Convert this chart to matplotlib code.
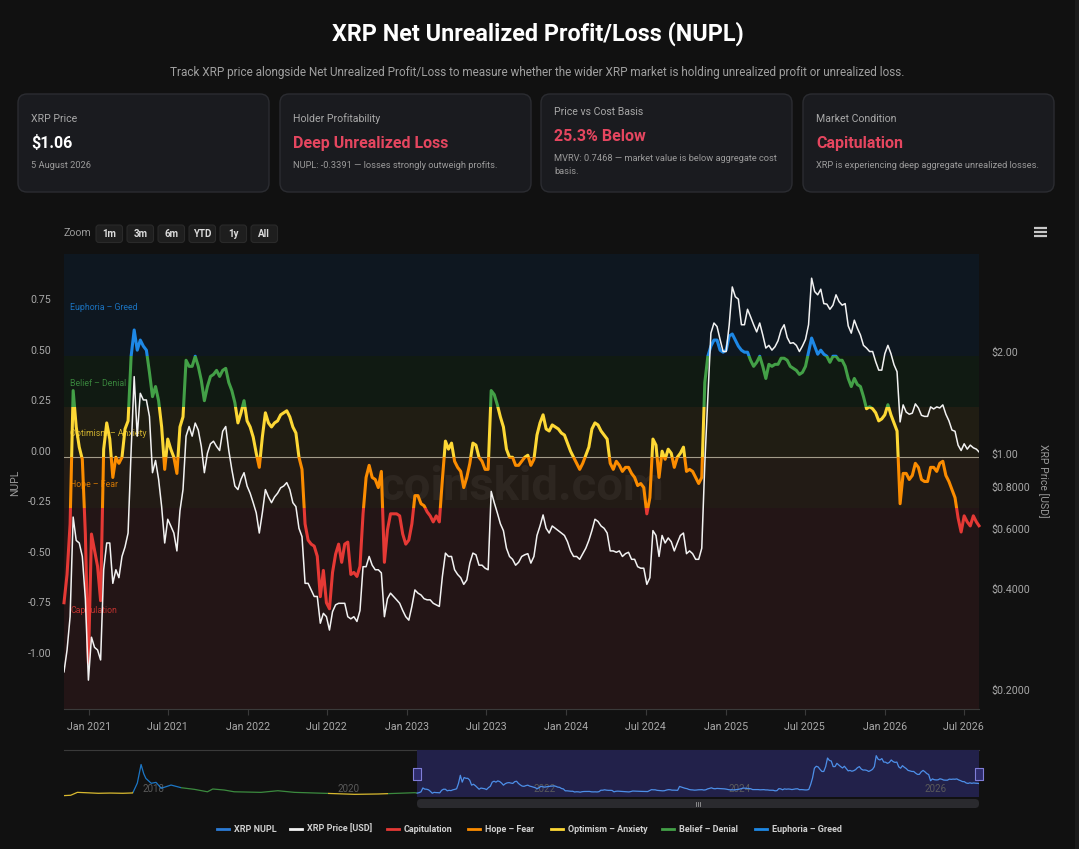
import pandas as pd
import matplotlib
matplotlib.use('Agg')
import matplotlib.pyplot as plt
import matplotlib.dates as mdates
import matplotlib.transforms as mtransforms
from matplotlib.patches import Rectangle, FancyBboxPatch
from matplotlib.path import Path
from matplotlib.ticker import NullLocator

plt.rcParams['font.family'] = ['Roboto', 'DejaVu Sans']

W, H = 1079, 849
BG = '#111111'

# ---- data: weekly from 5 Nov 2020, last point 5 Aug 2026 ----
dates = pd.DatetimeIndex(list(pd.date_range('2020-11-05', periods=300, freq='7D'))
                         + [pd.Timestamp('2026-08-05')])

nupl = [
    -0.72, -0.58, -0.33, 0.33, 0.15, 0.05, -0.01, -0.38, -1.02, -0.38,
    -0.46, -0.54, -0.71, 0.04, 0.17, 0.09, -0.10, 0.00, -0.03, 0.00,
    0.14, 0.18, 0.50, 0.63, 0.53, 0.58, 0.55, 0.53, 0.42, 0.30,
    0.35, 0.28, 0.15, -0.06, 0.09, 0.04, 0.00, -0.08, 0.15, 0.20,
    0.48, 0.45, 0.45, 0.50, 0.45, 0.38, 0.28, 0.35, 0.40, 0.41,
    0.43, 0.40, 0.43, 0.44, 0.37, 0.33, 0.27, 0.17, 0.22, 0.28,
    0.18, 0.15, 0.10, 0.02, -0.05, 0.10, 0.22, 0.17, 0.15, 0.17,
    0.18, 0.21, 0.22, 0.23, 0.20, 0.15, 0.12, 0.00,
    -0.06, -0.33, -0.41, -0.43, -0.44, -0.49, -0.69, -0.56, -0.72, -0.75,
    -0.57, -0.48, -0.43, -0.52, -0.43, -0.42, -0.58, -0.57, -0.59, -0.54,
    -0.28, -0.10, -0.04, -0.10, -0.11, -0.15, -0.07, -0.52, -0.36, -0.28,
    -0.28, -0.28, -0.29, -0.38, -0.43, -0.41, -0.33, -0.19, -0.19, -0.23,
    -0.24, -0.27, -0.29, -0.32, -0.29, -0.32, -0.11, 0.08, 0.04, 0.07,
    -0.02, -0.05, -0.07, -0.15, -0.10, -0.03, 0.07, 0.06, 0.00, -0.02,
    -0.06, -0.06, 0.33, 0.31, 0.26, 0.20, 0.15, 0.04, 0.00, 0.00,
    -0.04, -0.04, -0.02, 0.00, 0.01, -0.04, -0.01,
    0.11, 0.17, 0.21, 0.14, 0.13, 0.16, 0.15, 0.14, 0.12, 0.11,
    0.07, 0.03, 0.00, -0.03, -0.06, -0.03, 0.01, 0.05, 0.14, 0.17,
    0.16, 0.13, 0.11, 0.09, -0.03, -0.06, -0.02, -0.04, -0.07, -0.05,
    -0.05, -0.08, -0.10, -0.14, -0.13, -0.15, -0.28, -0.20, 0.09, 0.06,
    -0.10, 0.03, -0.01, 0.04, 0.02, -0.05, 0.00, 0.02, 0.05, -0.07,
    -0.06, -0.07, -0.10, -0.13, -0.10, 0.37, 0.50, 0.55, 0.58, 0.58,
    0.53, 0.52, 0.53, 0.60, 0.61, 0.58, 0.55, 0.53, 0.52, 0.52,
    0.48, 0.45, 0.47, 0.50, 0.45, 0.39, 0.46,
    0.45, 0.46, 0.46, 0.49, 0.49, 0.48, 0.45, 0.44, 0.43, 0.41,
    0.42, 0.45, 0.52, 0.59, 0.55, 0.51, 0.53, 0.51, 0.50, 0.47,
    0.50, 0.50, 0.48, 0.48, 0.45, 0.39, 0.35, 0.39, 0.36, 0.35,
    0.30, 0.24, 0.25, 0.24, 0.22, 0.18, 0.19, 0.21, 0.26, 0.21,
    0.17, 0.13, -0.23, -0.08, -0.08, -0.11, -0.09, -0.03, -0.05, -0.11,
    -0.12, -0.12, -0.05, -0.05, -0.07, -0.03, -0.02, -0.09, -0.12, -0.16,
    -0.20, -0.30, -0.37, -0.29, -0.32, -0.34, -0.29, -0.32, -0.339,
]

price = [
    0.237, 0.275, 0.345, 0.68, 0.58, 0.57, 0.52, 0.39, 0.224, 0.30,
    0.28, 0.275, 0.257, 0.475, 0.57, 0.57, 0.433, 0.475, 0.45, 0.52,
    0.555, 0.61, 1.07, 1.77, 1.18, 1.58, 1.51, 1.51, 1.35, 0.92,
    1.00, 0.88, 0.73, 0.57, 0.67, 0.64, 0.61, 0.54, 0.71, 0.82,
    1.18, 1.26, 1.18, 1.29, 1.23, 1.10, 0.92, 1.05, 1.12, 1.14,
    1.10, 1.07, 1.22, 1.26, 1.07, 0.94, 0.84, 0.82, 0.88, 0.92,
    0.84, 0.80, 0.75, 0.70, 0.61, 0.70, 0.82, 0.78, 0.75, 0.78,
    0.80, 0.83, 0.84, 0.86, 0.82, 0.75, 0.73, 0.63,
    0.595, 0.433, 0.433, 0.414, 0.396, 0.396, 0.33, 0.353, 0.345, 0.315,
    0.357, 0.374, 0.378, 0.378, 0.378, 0.345, 0.34, 0.345, 0.334, 0.36,
    0.485, 0.485, 0.52, 0.49, 0.475, 0.475, 0.465, 0.345, 0.39, 0.405,
    0.396, 0.387, 0.378, 0.36, 0.345, 0.337, 0.37, 0.414, 0.405, 0.40,
    0.39, 0.387, 0.387, 0.378, 0.374, 0.37, 0.454, 0.532, 0.52, 0.52,
    0.475, 0.46, 0.45, 0.43, 0.443, 0.497, 0.532, 0.526, 0.49, 0.49,
    0.48, 0.475, 0.81, 0.75, 0.70, 0.65, 0.62, 0.55, 0.52, 0.51,
    0.49, 0.50, 0.52, 0.526, 0.53, 0.497, 0.52,
    0.60, 0.64, 0.69, 0.63, 0.61, 0.64, 0.63, 0.62, 0.61, 0.60,
    0.575, 0.54, 0.52, 0.52, 0.51, 0.53, 0.55, 0.58, 0.62, 0.67,
    0.66, 0.64, 0.63, 0.61, 0.54, 0.54, 0.535, 0.54, 0.52, 0.53,
    0.535, 0.51, 0.51, 0.485, 0.48, 0.48, 0.43, 0.45, 0.62, 0.60,
    0.52, 0.60, 0.57, 0.59, 0.575, 0.54, 0.57, 0.60, 0.61, 0.53,
    0.54, 0.53, 0.51, 0.51, 0.55, 0.98, 1.54, 2.38, 2.55, 2.49,
    2.28, 2.10, 2.10, 2.52, 3.26, 3.05, 3.00, 2.52, 2.52, 2.80,
    2.66, 2.52, 2.40, 2.55, 2.35, 2.15, 2.19,
    2.12, 2.17, 2.26, 2.43, 2.52, 2.31, 2.22, 2.23, 2.19, 2.10,
    2.18, 2.28, 2.52, 3.46, 3.16, 3.09, 3.21, 2.91, 2.90, 2.80,
    2.88, 3.09, 2.95, 2.88, 2.91, 2.50, 2.38, 2.60, 2.46, 2.35,
    2.19, 2.15, 2.10, 2.10, 1.96, 1.85, 1.85, 2.07, 2.19, 2.07,
    1.92, 1.83, 1.30, 1.46, 1.39, 1.37, 1.38, 1.47, 1.43, 1.36,
    1.35, 1.35, 1.44, 1.42, 1.44, 1.43, 1.46, 1.37, 1.31, 1.23,
    1.22, 1.11, 1.07, 1.12, 1.08, 1.11, 1.09, 1.08, 1.06,
]

# navigator: price history before the main window
nav_dates = pd.to_datetime([
    '2017-03-26', '2017-04-20', '2017-05-15', '2017-06-15', '2017-08-01', '2017-09-15',
    '2017-11-01', '2017-12-08', '2017-12-25', '2018-01-08', '2018-01-18', '2018-01-26',
    '2018-02-15', '2018-03-05', '2018-03-24', '2018-04-30', '2018-06-07', '2018-07-26',
    '2018-09-13', '2018-10-03', '2018-11-15', '2018-12-22', '2019-04-01', '2019-06-03',
    '2019-08-04', '2019-12-06', '2020-03-16', '2020-06-12', '2020-08-13', '2020-10-27'])
nav_prices = [0.02, 0.05, 0.30, 0.27, 0.22, 0.24, 0.22, 0.25, 1.10, 2.70, 1.90, 1.50,
              1.08, 1.16, 0.65, 0.93, 0.70, 0.56, 0.35, 0.59, 0.50, 0.35, 0.30, 0.44,
              0.30, 0.21, 0.13, 0.16, 0.21, 0.27]
nav_zone_edges = pd.to_datetime(['2017-12-08', '2018-06-07', '2019-12-06', '2020-07-20'])
nav_zone_idx = [2, 4, 3, 2, 3]

zone_names = ['Capitulation', 'Hope – Fear', 'Optimism – Anxiety', 'Belief – Denial', 'Euphoria – Greed']
zone_edges = [-1.25, -0.25, 0.0, 0.25, 0.5, 1.0]
zone_colors = ['#e53935', '#fb8c00', '#fdd835', '#43a047', '#1e88e5']
band_colors = ['#231516', '#221b15', '#201d13', '#101a12', '#0e1720']

x_ticks = pd.date_range('2021-01-01', '2026-07-01', freq='6MS')
nupl_ticks = [0.75, 0.5, 0.25, 0.0, -0.25, -0.5, -0.75, -1.0]
price_ticks = [2, 1, 0.8, 0.6, 0.4, 0.2]
price_labels = ['$2.00', '$1.00', '$0.8000', '$0.6000', '$0.4000', '$0.2000']

card_titles = ['XRP Price', 'Holder Profitability', 'Price vs Cost Basis', 'Market Condition']
card_values = ['$1.06', 'Deep Unrealized Loss', '25.3% Below', 'Capitulation']
card_notes = [['5 August 2026'],
              ['NUPL: -0.3391 — losses strongly outweigh profits.'],
              ['MVRV: 0.7468 — market value is below aggregate cost', 'basis.'],
              ['XRP is experiencing deep aggregate unrealized losses.']]
zoom_buttons = ['1m', '3m', '6m', 'YTD', '1y', 'All']

PINK = '#e5465f'
GREY = '#a8a8a8'

fig = plt.figure(figsize=(W / 100, H / 100), dpi=100, facecolor=BG)

# page layer in pixel coordinates
bg = fig.add_axes([0, 0, 1, 1], zorder=-5)
bg.set_xlim(0, W)
bg.set_ylim(H, 0)
bg.axis('off')
bg.add_patch(Rectangle((1075, 0), 4, H, fc='#1b1b1b', lw=0))

bg.text(538, 34, 'XRP Net Unrealized Profit/Loss (NUPL)', ha='center', va='center',
        fontsize=16.8, weight='bold', color='white')
bg.text(537, 72, 'Track XRP price alongside Net Unrealized Profit/Loss to measure whether the wider '
        'XRP market is holding unrealized profit or unrealized loss.',
        ha='center', va='center', fontsize=8.45, color='#a0a0a0')

for i, x0 in enumerate([18, 280, 541, 803]):
    bg.add_patch(FancyBboxPatch((x0, 94), 251, 98, boxstyle='round,pad=0,rounding_size=9',
                                fc='#1a1b1f', ec='#2b2c31', lw=1))
    ty = 112 if i == 2 else 119
    bg.text(x0 + 13, ty, card_titles[i], va='center', fontsize=7.6, color=GREY)
    bg.text(x0 + 13, ty + 24, card_values[i], va='center', fontsize=11.5, weight='bold',
            color='white' if i == 0 else PINK)
    for j, note in enumerate(card_notes[i]):
        bg.text(x0 + 13, ty + 46 + 13 * j, note, va='center', fontsize=6.7, color='#9a9a9a')

# range selector
bg.text(63, 233, 'Zoom', va='center', fontsize=7.6, color='#9a9a9a')
for i, lab in enumerate(zoom_buttons):
    bx = 96 + 31 * i
    bg.add_patch(FancyBboxPatch((bx, 225), 26.5, 17.5, boxstyle='round,pad=0,rounding_size=3',
                                fc='#1e1e1e', ec='#2a2a2a', lw=0.8))
    bg.text(bx + 13.25, 233.5, lab, ha='center', va='center', fontsize=7, weight='bold', color='#dcdcdc')
for yy in (228, 232, 236):
    bg.plot([1034, 1047], [yy, yy], color='#c8c8c8', lw=1.6, solid_capstyle='butt')

# ---- main chart ----
ax = fig.add_axes([64 / W, 1 - 709 / H, 915 / W, 455 / H])
ax.set_facecolor(BG)
ax.set_xlim(dates[0], dates[-1])
ax.set_ylim(-1.246, 1.006)

spans = list(zone_edges)
spans[0], spans[-1] = -5, 5
for i, c in enumerate(band_colors):
    ax.axhspan(spans[i], spans[i + 1], color=c, lw=0, zorder=0)
    ax.text(0.0066, (zone_edges[i] + zone_edges[i + 1]) / 2 - 0.008, zone_names[i],
            transform=ax.get_yaxis_transform(), va='center', fontsize=6.3,
            color=zone_colors[i], alpha=0.8, zorder=2)
ax.axhline(0, color='#a39c8a', lw=0.8, zorder=2)
ax.text(0.5, 0.488, 'coinskid.com', transform=ax.transAxes, ha='center', va='center',
        fontsize=34, weight='bold', color='white', alpha=0.05, zorder=1)

x0 = mdates.date2num(dates[0]) - 30
x1 = mdates.date2num(dates[-1]) + 30
for i, col in enumerate(zone_colors):
    ln, = ax.plot(dates, nupl, color=col, lw=2.2, zorder=3, solid_joinstyle='round')
    ln.set_clip_path(Rectangle((x0, spans[i]), x1 - x0, spans[i + 1] - spans[i], transform=ax.transData))

ax2 = ax.twinx()
ax2.set_yscale('log')
ax2.set_ylim(0.184, 4.08)
ax2.plot(dates, price, color='#f2f2f2', lw=1.1, zorder=4)

for s in ax.spines.values():
    s.set_visible(False)
for s in ax2.spines.values():
    s.set_visible(False)
ax.spines['bottom'].set_visible(True)
ax.spines['bottom'].set_color('#3a3a3a')

ax.set_yticks(nupl_ticks)
ax.set_yticklabels([f'{v:.2f}' for v in nupl_ticks])
ax.tick_params(axis='y', length=0, pad=9.4, labelsize=7.7, labelcolor=GREY)
ax.set_xticks(mdates.date2num(x_ticks))
ax.set_xticklabels([d.strftime('%b %Y') for d in x_ticks])
ax.tick_params(axis='x', length=4, color='#3a3a3a', pad=5, labelsize=7.7, labelcolor=GREY)

ax2.set_yticks(price_ticks)
ax2.set_yticklabels(price_labels)
ax2.yaxis.set_minor_locator(NullLocator())
ax2.tick_params(axis='y', which='both', length=0, pad=8.6, labelsize=7.7, labelcolor=GREY)

up = mtransforms.ScaledTranslation(0, 6.5 / 100, fig.dpi_scale_trans)
for lab in ax.get_yticklabels() + ax2.get_yticklabels():
    lab.set_transform(lab.get_transform() + up)

fig.text(15 / W, 1 - 483 / H, 'NUPL', rotation=90, ha='center', va='center', fontsize=7.5, color='#9a9a9a')
fig.text(1043 / W, 1 - 481 / H, 'XRP Price [USD]', rotation=270, ha='center', va='center',
         fontsize=7.5, color='#9a9a9a')

# ---- navigator ----
nav = fig.add_axes([64 / W, 1 - 797 / H, 915 / W, 47 / H])
nav.set_facecolor('none')
nav.axis('off')
nav.set_xlim(nav_dates[0], dates[-1])
nav.set_ylim(-0.1, 3.95)
nav.axvspan(dates[0], dates[-1], color='#22214a', lw=0, zorder=0)
bg.plot([64, 979], [750, 750], color='#3a3a3a', lw=0.8)

pre_x = list(nav_dates) + [dates[0]]
pre_y = nav_prices + [price[0]]
edges = [nav_dates[0]] + list(nav_zone_edges) + [dates[0]]
for k, zi in enumerate(nav_zone_idx):
    e0, e1 = mdates.date2num(edges[k]), mdates.date2num(edges[k + 1])
    ln, = nav.plot(pre_x, pre_y, color=zone_colors[zi], lw=0.9, alpha=0.85, zorder=2)
    ln.set_clip_path(Rectangle((e0, -10), e1 - e0, 20, transform=nav.transData))
nav.plot(dates, price, color='#4d8fe8', lw=0.9, zorder=2)

shift = mtransforms.ScaledTranslation(3 / 100, 0, fig.dpi_scale_trans)
for yr in range(2018, 2027, 2):
    nav.text(pd.Timestamp(f'{yr}-01-01'), 0.17, str(yr), transform=nav.get_xaxis_transform() + shift,
             ha='left', va='center', fontsize=7, color='#5a5a5a', zorder=1)

handle = Path([(-0.3, -0.5), (0.3, -0.5), (0.3, 0.5), (-0.3, 0.5), (-0.3, -0.5)], closed=True)
nav.plot([dates[0], dates[-1]], [0.5, 0.5], transform=nav.get_xaxis_transform(), ls='none',
         marker=handle, ms=9, mfc='#2e2c6c', mec='#807ed8', mew=0.8, clip_on=False, zorder=5)

bg.add_patch(FancyBboxPatch((417, 799), 562, 9, boxstyle='round,pad=0,rounding_size=4',
                            fc='#2a2a2e', lw=0))
for gx in (695.5, 697.5, 699.5):
    bg.plot([gx, gx], [801.5, 805.5], color='#9a9a9a', lw=0.6)

# ---- legend ----
legend_items = [('XRP NUPL', '#2b7bd6', 217), ('XRP Price [USD]', '#f2f2f2', 290)] + \
    [(n, c, lx) for n, c, lx in zip(zone_names, zone_colors, [387, 468, 551, 662, 755])]
for name, col, lx in legend_items:
    bg.plot([lx, lx + 12], [829, 829], color=col, lw=2)
    bg.text(lx + 17, 829, name, va='center', fontsize=6.5, weight='bold', color='#cfcfcf')

fig.savefig('out.png', dpi=100, facecolor=BG)
